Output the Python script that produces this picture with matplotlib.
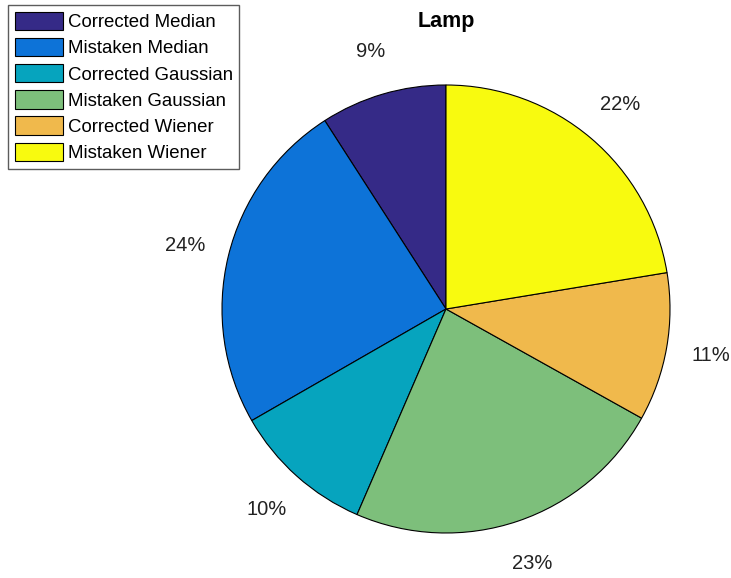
import matplotlib
matplotlib.use("Agg")
import matplotlib.pyplot as plt

plt.rcParams['font.family'] = ['Liberation Sans', 'DejaVu Sans']

# share of each filter/result in the Lamp image
labels = ['Corrected Median', 'Mistaken Median', 'Corrected Gaussian',
          'Mistaken Gaussian', 'Corrected Wiener', 'Mistaken Wiener']
shares = [9.1, 24.2, 10.2, 23.4, 10.7, 22.4]
colors = ['#352a87', '#0d73d8', '#06a4be', '#7dbf7b', '#f0b94c', '#f8fa0f']

fig = plt.figure(figsize=(7.31, 5.78), dpi=100)
# square axes holding the pie (center at x=446, y=309 px, radius 224 px)
ax = fig.add_axes([222 / 731, (578 - 309 - 224) / 578, 448 / 731, 448 / 578])

wedges, texts, autotexts = ax.pie(
    shares, colors=colors, startangle=90, counterclock=True,
    autopct='%1.0f%%', pctdistance=1.2,
    wedgeprops=dict(edgecolor='black', linewidth=0.8),
    textprops=dict(fontsize=14.5, color='#222222'))
for t in autotexts:
    t.set_ha('center')
    t.set_va('center')

ax.set_aspect('auto')
ax.set_xlim(-1, 1)
ax.set_ylim(-1, 1)

fig.text(446 / 731, 1 - 22 / 578, 'Lamp', ha='center', va='center',
         fontsize=15.5, fontweight='bold')

leg = fig.legend(wedges, labels, loc='upper left',
                 bbox_to_anchor=(8 / 731, 1 - 5 / 578),
                 fontsize=13.4, frameon=True, fancybox=False,
                 handlelength=2.6, handleheight=1.15, handletextpad=0.25,
                 labelspacing=0.36, borderpad=0.35, borderaxespad=0)
leg.get_frame().set_edgecolor('#333333')
leg.get_frame().set_linewidth(1.0)

fig.savefig('out.png', dpi=100)
